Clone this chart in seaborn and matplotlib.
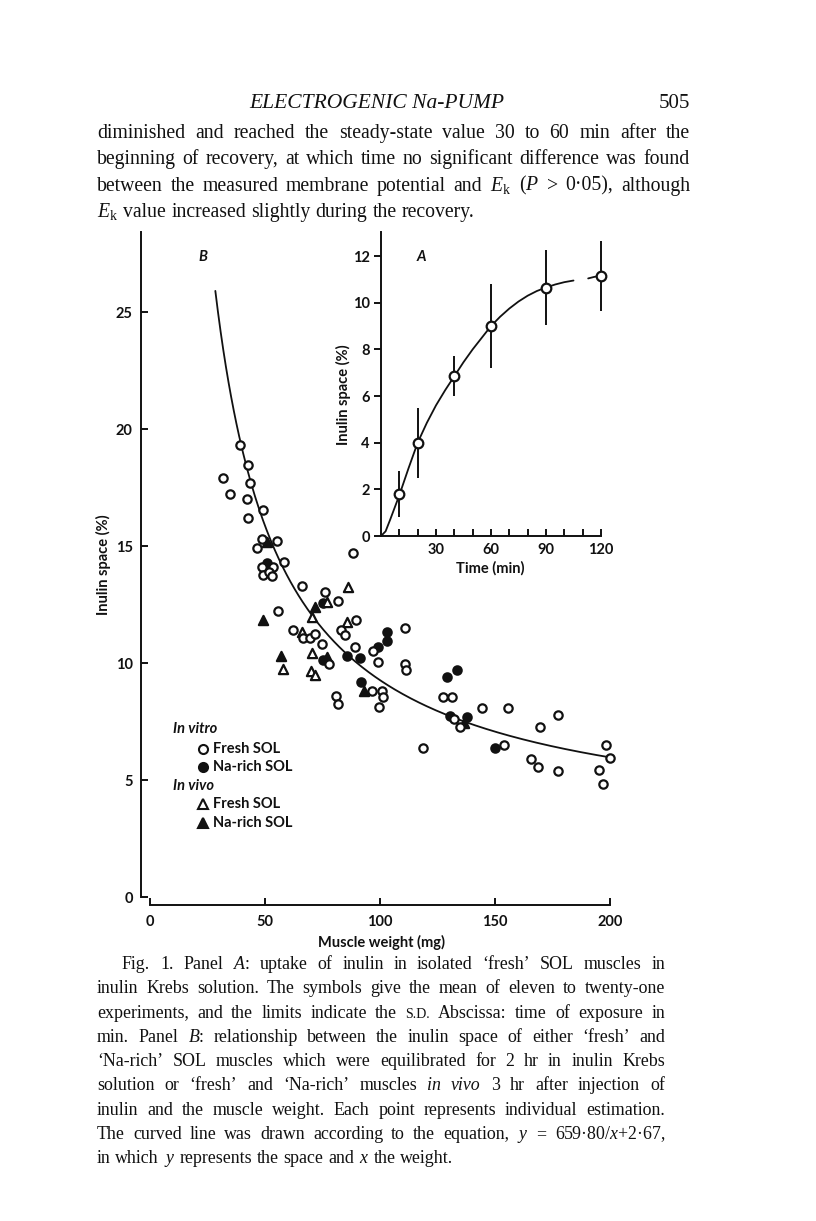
import numpy as np
import pandas as pd
import matplotlib
matplotlib.use("Agg")
import matplotlib.pyplot as plt
import seaborn as sns

# page size in pixels (dpi 100)
W, H = 816, 1221

# ---- panel A : inulin uptake with time (mean and S.D.)
time_min = [10, 20, 40, 60, 90, 120]
space_mean = [1.8, 4.0, 6.85, 9.0, 10.65, 11.15]
space_sd = [1.0, 1.5, 0.85, 1.8, 1.6, 1.5]

# hand drawn curve of panel A
curve_t = [0, 2.5, 5, 10, 15, 20, 25, 30, 35, 40, 45, 50, 55, 60, 65, 70, 75, 80, 85, 90, 95, 100, 105]
curve_y = [0, 0.2, 0.7, 1.75, 2.9, 4.0, 4.85, 5.6, 6.25, 6.85, 7.45, 8.0, 8.5, 9.0, 9.4, 9.75, 10.05,
           10.3, 10.5, 10.65, 10.78, 10.88, 10.95]
curve_end_t = [113, 116, 118.5]
curve_end_y = [11.04, 11.1, 11.14]

# ---- panel B : inulin space (%) against muscle weight (mg)
vitro_fresh_x = [39.1, 42.8, 31.6, 43.5, 34.8, 42.3, 49.3, 42.8, 48.8, 55.2, 46.7, 58.3, 48.6, 53.6, 49.0,
                 51.9, 53.2, 65.9, 76.1, 81.6, 55.5, 89.6, 83.0, 84.8, 62.0, 66.7, 69.6, 71.7, 74.9, 89.1,
                 78.0, 80.7, 81.6, 88.4, 97.1, 99.3, 110.9, 110.9, 111.3, 96.4, 100.7, 101.2, 99.7, 127.2,
                 131.2, 132.2, 134.8, 144.2, 155.5, 118.8, 154.1, 169.6, 177.3, 165.7, 168.8, 177.5, 198.3,
                 200.0, 195.2, 197.1]
vitro_fresh_y = [19.32, 18.45, 17.92, 17.71, 17.24, 17.03, 16.52, 16.21, 15.30, 15.21, 14.90, 14.33, 14.09,
                 14.09, 13.76, 13.89, 13.73, 13.29, 13.04, 12.66, 12.22, 11.84, 11.43, 11.20, 11.43, 11.05,
                 11.05, 11.24, 10.81, 10.67, 9.98, 8.59, 8.24, 14.71, 10.51, 10.03, 11.48, 9.94, 9.70, 8.80,
                 8.80, 8.56, 8.13, 8.53, 8.53, 7.59, 7.25, 8.09, 8.09, 6.38, 6.50, 7.25, 7.78, 5.90, 5.57,
                 5.38, 6.50, 5.95, 5.43, 4.85]
vitro_na_x = [50.7, 75.1, 75.4, 85.8, 91.6, 91.3, 99.0, 103.2, 103.2, 129.0, 133.6, 130.4, 138.0, 150.0]
vitro_na_y = [14.28, 12.57, 10.15, 10.31, 9.20, 10.20, 10.67, 11.31, 10.95, 9.41, 9.70, 7.74, 7.70, 6.38]
vivo_fresh_x = [86.2, 77.1, 70.3, 85.5, 66.2, 70.3, 58.0, 70.0, 71.7]
vivo_fresh_y = [13.23, 12.60, 11.97, 11.76, 11.33, 10.41, 9.74, 9.66, 9.49]
vivo_na_x = [50.7, 71.7, 49.3, 57.0, 77.1, 93.0, 136.5]
vivo_na_y = [15.18, 12.40, 11.84, 10.31, 10.24, 8.81, 7.45]

# curve of panel B as given in the legend: y = 659.80/x + 2.67
fit_a, fit_b = 659.80, 2.67
fit_x = np.linspace(28.4, 200, 300)

sns.set_theme(style="ticks")
plt.rcParams["font.family"] = ["Lato", "DejaVu Sans"]
plt.rcParams["mathtext.fontset"] = "custom"
plt.rcParams["mathtext.rm"] = "Liberation Serif"
plt.rcParams["mathtext.it"] = "Liberation Serif:italic"
plt.rcParams["mathtext.bf"] = "Liberation Serif:bold"

ink = "#111111"
lab_size = 10.5
tick_font = dict(family="Lato", weight="bold", size=lab_size)


def fx(px):
    return px / W


def fy(py):
    return 1 - py / H


fig = plt.figure(figsize=(W / 100, H / 100), dpi=100)
fig.patch.set_facecolor("white")

# ---------------- panel B
axB = fig.add_axes([fx(141), fy(905), (610 - 141) / W, (905 - 232) / H])
axB.set_xlim(-3.92, 200)
axB.set_ylim(-0.34, 28.42)
axB.set_facecolor("none")

sns.lineplot(x=fit_x, y=fit_a / fit_x + fit_b, ax=axB, color=ink, lw=1.3, sort=False)

groups = [
    (vitro_na_x, vitro_na_y, "o", ink, 36),
    (vivo_na_x, vivo_na_y, "^", ink, 44),
    (vivo_fresh_x, vivo_fresh_y, "^", "white", 44),
    (vitro_fresh_x, vitro_fresh_y, "o", "white", 36),
]
for gx, gy, mk, face, size in groups:
    sns.scatterplot(x=gx, y=gy, ax=axB, marker=mk, s=size, facecolor=face,
                    edgecolor=ink, linewidth=1.6, zorder=3, clip_on=False)

for side in ["top", "right"]:
    axB.spines[side].set_visible(False)
axB.spines["bottom"].set_bounds(0, 200)
axB.spines["left"].set_bounds(0, 28.42)
for side in ["bottom", "left"]:
    axB.spines[side].set_linewidth(1.4)
    axB.spines[side].set_color(ink)
axB.set_xticks([0, 50, 100, 150, 200])
axB.set_yticks([0, 5, 10, 15, 20, 25])
axB.tick_params(axis="x", direction="in", length=5, width=1.4, pad=7, colors=ink)
axB.tick_params(axis="y", direction="in", length=5, width=1.4, pad=6, colors=ink)
for lab in axB.get_xticklabels() + axB.get_yticklabels():
    lab.set_fontproperties(matplotlib.font_manager.FontProperties(**tick_font))
axB.set_xlabel("Muscle weight (mg)", fontdict=tick_font, color=ink)
axB.set_ylabel("Inulin space (%)", fontdict=tick_font, color=ink)
axB.xaxis.set_label_coords((381 - 141) / 469, -(942 - 905) / 673)
axB.xaxis.label.set_va("center")
axB.yaxis.set_label_coords(-(141 - 103) / 469, (905 - 565) / 673)
axB.yaxis.label.set_va("center")

fig.text(fx(203), fy(257), "B", family="Lato", weight="bold", style="italic", size=lab_size,
         ha="center", va="center", color=ink)

# legend of panel B, drawn as on the page
fig.text(fx(173), fy(729), "In vitro", family="Lato", weight="bold", style="italic", size=lab_size,
         va="center", color=ink)
fig.text(fx(173), fy(786), "In vivo", family="Lato", weight="bold", style="italic", size=lab_size,
         va="center", color=ink)
legend_rows = [(749, "o", "white", "Fresh SOL"), (767, "o", ink, "Na-rich SOL"),
               (804, "^", "white", "Fresh SOL"), (823, "^", ink, "Na-rich SOL")]
for py, mk, face, label in legend_rows:
    axB.plot([fx(202.5)], [fy(py)], marker=mk, ms=6.5, mfc=face, mec=ink, mew=1.5,
             transform=fig.transFigure, clip_on=False)
    fig.text(fx(213), fy(py), label, family="Lato", weight="bold", size=lab_size, va="center", color=ink)

# ---------------- panel A
axA = fig.add_axes([fx(381), fy(536), 220 / W, (536 - 232) / H])
axA.set_xlim(0, 120)
axA.set_ylim(0, 13.03)
axA.set_facecolor("white")

sns.lineplot(x=curve_t, y=curve_y, ax=axA, color=ink, lw=1.3, sort=False)
sns.lineplot(x=curve_end_t, y=curve_end_y, ax=axA, color=ink, lw=1.3, sort=False)
axA.vlines(time_min, np.array(space_mean) - np.array(space_sd), np.array(space_mean) + np.array(space_sd),
           color=ink, lw=1.4, clip_on=False)
sns.scatterplot(x=time_min, y=space_mean, ax=axA, marker="o", s=48, facecolor="white",
                edgecolor=ink, linewidth=1.6, zorder=3, clip_on=False)

for side in ["top", "right"]:
    axA.spines[side].set_visible(False)
for side in ["bottom", "left"]:
    axA.spines[side].set_linewidth(1.4)
    axA.spines[side].set_color(ink)
axA.set_xticks([30, 60, 90, 120])
axA.set_xticks([10, 20, 40, 50, 70, 80, 100, 110], minor=True)
axA.set_yticks([0, 2, 4, 6, 8, 10, 12])
axA.tick_params(axis="x", which="both", direction="in", length=5, width=1.4, pad=5, colors=ink)
axA.tick_params(axis="y", direction="out", length=5, width=1.4, pad=3, colors=ink)
for lab in axA.get_xticklabels() + axA.get_yticklabels():
    lab.set_fontproperties(matplotlib.font_manager.FontProperties(**tick_font))
axA.set_xlabel("Time (min)", fontdict=tick_font, color=ink)
axA.set_ylabel("Inulin space (%)", fontdict=tick_font, color=ink)
axA.xaxis.set_label_coords((490 - 381) / 220, -(568 - 536) / 304)
axA.xaxis.label.set_va("center")
axA.yaxis.set_label_coords(-(381 - 343) / 220, (536 - 395) / 304)
axA.yaxis.label.set_va("center")

fig.text(fx(421), fy(257), "A", family="Lato", weight="bold", style="italic", size=lab_size,
         ha="center", va="center", color=ink)

# ---------------- page text
renderer = fig.canvas.get_renderer()


def text_line(py, line, x0, x1, size, justify=True):
    objs = []
    for w in line.split(" "):
        kw = dict(family="Liberation Serif", size=size, color=ink, va="baseline", ha="left")
        if w.startswith("*"):
            w = w.strip("*")
            kw["style"] = "italic"
        if w.startswith("^"):
            w = w.strip("^")
            kw["size"] = size * 0.78
        objs.append(fig.text(fx(x0), fy(py), w, **kw))
    widths = [t.get_window_extent(renderer).width for t in objs]
    gap = size * 100 / 72 * 0.26
    if justify and len(objs) > 1:
        gap = (x1 - x0 - sum(widths)) / (len(objs) - 1)
    x = x0
    for t, wd in zip(objs, widths):
        t.set_x(fx(x))
        x += wd + gap


fig.text(fx(377), fy(108), "ELECTROGENIC Na-PUMP", family="Liberation Serif", style="italic",
         size=15.5, ha="center", va="baseline", color=ink)
fig.text(fx(690), fy(108), "505", family="Liberation Serif", size=15, ha="right", va="baseline",
         color=ink)

body = [
    "diminished and reached the steady-state value 30 to 60 min after the",
    "beginning of recovery, at which time no significant difference was found",
    r"between the measured membrane potential and $E_\mathrm{k}$ ($P$ > 0·05), although",
    r"$E_\mathrm{k}$ value increased slightly during the recovery.",
]
for i, line in enumerate(body):
    text_line(138 + i * 26.4, line, 97, 690, 14.2, justify=i < len(body) - 1)

caption = [
    r"Fig. 1. Panel $A$: uptake of inulin in isolated ‘fresh’ SOL muscles in",
    "inulin Krebs solution. The symbols give the mean of eleven to twenty-one",
    "experiments, and the limits indicate the ^S.D.^ Abscissa: time of exposure in",
    r"min. Panel $B$: relationship between the inulin space of either ‘fresh’ and",
    "‘Na-rich’ SOL muscles which were equilibrated for 2 hr in inulin Krebs",
    "solution or ‘fresh’ and ‘Na-rich’ muscles *in* *vivo* 3 hr after injection of",
    "inulin and the muscle weight. Each point represents individual estimation.",
    r"The curved line was drawn according to the equation, $y$ = 659·80/$x$+2·67,",
    r"in which $y$ represents the space and $x$ the weight.",
]
for i, line in enumerate(caption):
    x0 = 122 if i == 0 else 97
    text_line(969 + i * 24.3, line, x0, 665, 12.9, justify=i < len(caption) - 1)

fig.savefig("out.png", dpi=100, facecolor="white")
